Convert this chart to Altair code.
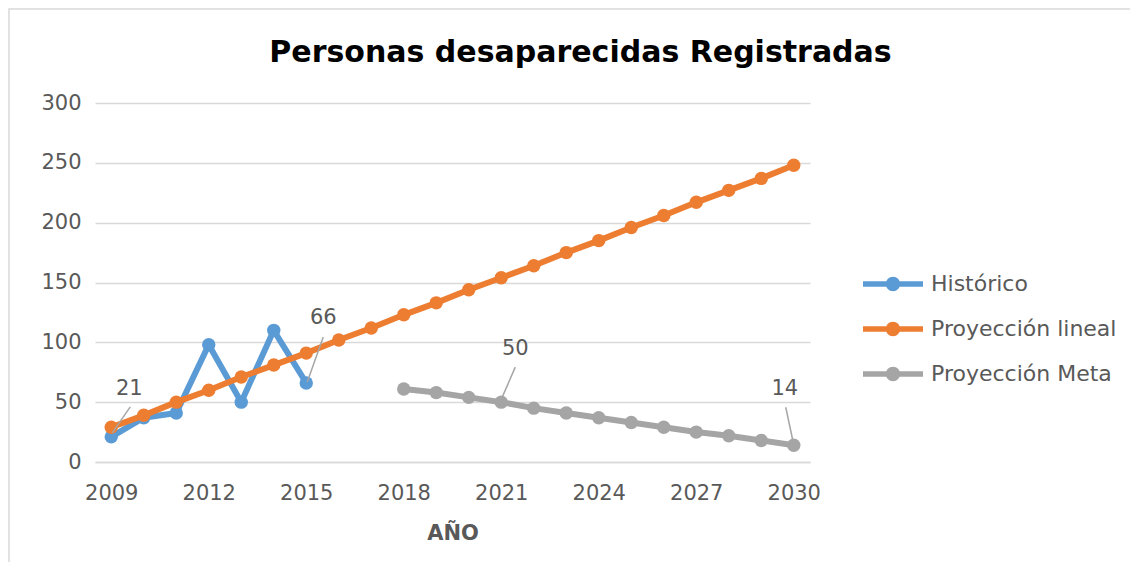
import altair as alt
import pandas as pd

# ---- data ----
series_names = ["Histórico", "Proyección lineal", "Proyección Meta"]
series_colors = ["#5B9BD5", "#ED7D31", "#A5A5A5"]

hist_years = [2009, 2010, 2011, 2012, 2013, 2014, 2015]
hist_values = [21, 37, 41, 98, 50, 110, 66]

lin_years = list(range(2009, 2031))
lin_values = [29, 39, 50, 60, 71, 81, 91, 102, 112, 123, 133, 144,
              154, 164, 175, 185, 196, 206, 217, 227, 237, 248]

meta_years = list(range(2018, 2031))
meta_values = [61, 58, 54, 50, 45, 41, 37, 33, 29, 25, 22, 18, 14]

x_tick_years = [2009, 2012, 2015, 2018, 2021, 2024, 2027, 2030]
y_ticks = [0, 50, 100, 150, 200, 250, 300]

# data labels: (series, year)
label_series = ["Histórico", "Histórico", "Proyección Meta", "Proyección Meta"]
label_years = [2009, 2015, 2021, 2030]

# styling: pixel offsets for label text and leader lines
label_text_off = [(18, -48), (17, -65), (14, -53), (-9, -56)]
label_lead_off = [((1, -4), (19, -30)), ((1, -1), (17, -46)),
                  ((1, -5), (14, -35)), ((-1, -5), (-8, -38))]

rows = []
for name, ys, vs in [(series_names[0], hist_years, hist_values),
                     (series_names[1], lin_years, lin_values),
                     (series_names[2], meta_years, meta_values)]:
    for y, v in zip(ys, vs):
        rows.append({"serie": name, "anio": y, "valor": v})
df = pd.DataFrame(rows)

FONT = "DejaVu Sans"
TFONT = "DejaVu Sans"
GREY_TXT = "#595959"

x_enc = alt.X("anio:Q",
              scale=alt.Scale(domain=[2008.5, 2030.5], nice=False, zero=False),
              axis=alt.Axis(values=x_tick_years, format="d", title="AÑO",
                            grid=False, ticks=False, domain=True,
                            domainColor="#d9d9d9", domainWidth=1.5,
                            labelFont=FONT, labelFontSize=21, labelColor=GREY_TXT,
                            labelPadding=20, titleFont=FONT, titleFontSize=21,
                            titleFontWeight="bold", titleColor=GREY_TXT,
                            titlePadding=19))
y_enc = alt.Y("valor:Q",
              scale=alt.Scale(domain=[0, 300], nice=False),
              axis=alt.Axis(values=y_ticks, title=None, grid=True,
                            gridColor="#d9d9d9", gridWidth=1.5,
                            ticks=False, domain=False,
                            labelFont=FONT, labelFontSize=21, labelColor=GREY_TXT,
                            labelPadding=14))

legend_path = ("M-1,-0.09 L1,-0.09 L1,0.09 L-1,0.09 Z "
               "M-0.24,0 A0.24,0.24 0 1,1 0.24,0 A0.24,0.24 0 1,1 -0.24,0 Z")

color_enc = alt.Color("serie:N",
                      scale=alt.Scale(domain=series_names, range=series_colors),
                      legend=alt.Legend(title=None, orient="none",
                                        legendX=768, legendY=151,
                                        symbolType=legend_path, symbolSize=3600,
                                        symbolStrokeWidth=0, symbolOpacity=1,
                                        labelFont=FONT, labelFontSize=22,
                                        labelColor=GREY_TXT, labelOffset=8,
                                        labelLimit=400, rowPadding=4))

base = alt.Chart(df)

layers = []
# outer frame
layers.append(
    alt.Chart(pd.DataFrame({"k": [0]})).mark_rect(
        fill="transparent", stroke="#d9d9d9", strokeWidth=1.5
    ).encode(x=alt.value(-86), x2=alt.value(1037), y=alt.value(-94), y2=alt.value(471))
)
for name in series_names:
    sub = base.transform_filter(alt.datum.serie == name)
    layers.append(sub.mark_line(strokeWidth=6).encode(x=x_enc, y=y_enc, color=color_enc))
    layers.append(sub.mark_circle(size=180, opacity=1).encode(x=x_enc, y=y_enc, color=color_enc))

for s, yr, (tdx, tdy), ((a1, b1), (a2, b2)) in zip(label_series, label_years,
                                                      label_text_off, label_lead_off):
    sub = base.transform_filter((alt.datum.serie == s) & (alt.datum.anio == yr))
    layers.append(sub.mark_rule(color="#a6a6a6", strokeWidth=1.5,
                                xOffset=a1, yOffset=b1, x2Offset=a2, y2Offset=b2)
                  .encode(x="anio:Q", y="valor:Q", x2="anio:Q", y2="valor:Q"))
    layers.append(sub.mark_text(font=FONT, fontSize=21, color=GREY_TXT,
                                dx=tdx, dy=tdy, baseline="middle", align="center")
                  .encode(x="anio:Q", y="valor:Q", text="valor:Q"))

chart = alt.layer(*layers).properties(
    width=715, height=359,
    title=alt.Title("Personas desaparecidas Registradas", font=TFONT,
                    fontSize=30, fontWeight="bold", color="#000000",
                    anchor="middle", frame="group", dx=128, offset=-60),
    autosize=alt.AutoSizeParams(type="none"),
    padding={"left": 87, "top": 95, "right": 320, "bottom": 100},
).configure(background="white").configure_view(stroke="transparent", strokeWidth=0)

chart.save("out.html", embed_options={"renderer": "svg", "actions": False})
